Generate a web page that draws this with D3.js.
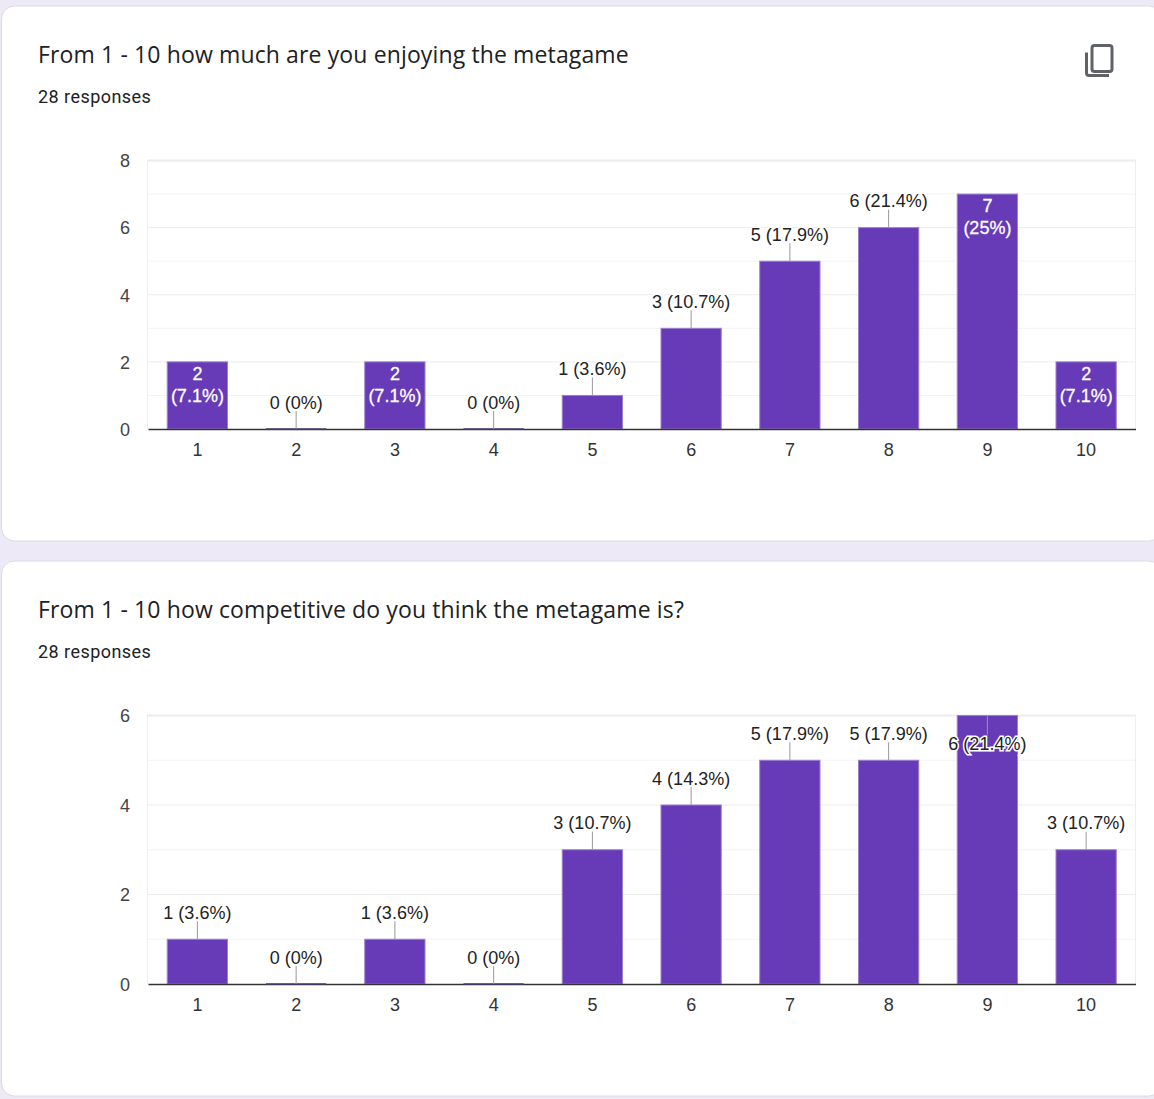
<!DOCTYPE html>
<html>
<head>
<meta charset="utf-8">
<script src="https://cdn.jsdelivr.net/npm/d3@7"></script>
<style>
html, body { margin: 0; padding: 0; background: #ede9f7; overflow: hidden; }
svg { display: block; }
.title { font-family: "Open Sans", sans-serif; font-size: 23px; letter-spacing: 0.13px; fill: #202124; }
.sub { font-family: Roboto, sans-serif; font-size: 18px; letter-spacing: 0.45px; fill: #202124; }
.chart text { font-family: "Liberation Sans", Arial, sans-serif; font-size: 18px; }
</style>
</head>
<body>
<script>
const categories = ["1", "2", "3", "4", "5", "6", "7", "8", "9", "10"];

// first question
const enjoyTitle = "From 1 - 10 how much are you enjoying the metagame";
const enjoyValues = [2, 0, 2, 0, 1, 3, 5, 6, 7, 2];
const enjoyPercents = ["7.1%", "0%", "7.1%", "0%", "3.6%", "10.7%", "17.9%", "21.4%", "25%", "7.1%"];
const enjoyTicks = [0, 2, 4, 6, 8];
const enjoyMinorTicks = [1, 3, 5, 7];
const enjoyInsideValues = [2, 7]; // these counts get a two line label inside the bar

// second question
const competitiveTitle = "From 1 - 10 how competitive do you think the metagame is?";
const competitiveValues = [1, 0, 1, 0, 3, 4, 5, 5, 6, 3];
const competitivePercents = ["3.6%", "0%", "3.6%", "0%", "10.7%", "14.3%", "17.9%", "17.9%", "21.4%", "10.7%"];
const competitiveTicks = [0, 2, 4, 6];
const competitiveMinorTicks = [1, 3, 5];
const competitiveInsideValues = [];

const responsesLabel = "28 responses";

const svg = d3.select("body").append("svg")
    .attr("width", 1154)
    .attr("height", 1099);

const drawCard = (cardTop, title, values, percents, ticks, minorTicks, insideValues, showIcon) => {
    const g = svg.append("g").attr("transform", `translate(0,${cardTop})`);

    // カード
    g.append("rect")
        .attr("x", 1.5).attr("y", 0.5)
        .attr("width", 1160).attr("height", 535)
        .attr("rx", 13)
        .attr("fill", "white")
        .attr("stroke", "#dadce0");

    g.append("text").attr("class", "title")
        .attr("x", 38).attr("y", 57)
        .text(title);
    g.append("text").attr("class", "sub")
        .attr("x", 38).attr("y", 97)
        .text(responsesLabel);

    // コピーアイコン
    if (showIcon) {
        const icon = g.append("g").attr("fill", "none").attr("stroke", "#5f6368").attr("stroke-width", 3);
        icon.append("rect").attr("x", 1092).attr("y", 40).attr("width", 20).attr("height", 26).attr("rx", 2.5);
        icon.append("path").attr("d", "M1086.5,47V67.5a2.5,2.5 0 0 0 2.5,2.5H1109");
    }

    const chart = g.append("g").attr("class", "chart");
    const left = 147, right = 1136, top = 155, bottom = 423.5;

    const x = d3.scaleBand()
        .domain(categories)
        .range([left + 1, right - 0.5])
        .paddingInner(0.39)
        .paddingOuter(0.195);
    const y = d3.scaleLinear()
        .domain([0, d3.max(ticks)])
        .range([bottom, top]);
    const barCenter = i => x(categories[i]) + x.bandwidth() / 2;

    // グリッド線
    chart.append("g").selectAll("line")
        .data(minorTicks)
        .join("line")
        .attr("x1", left).attr("x2", right)
        .attr("y1", d => y(d)).attr("y2", d => y(d))
        .attr("stroke", "#f3f3f3");
    chart.append("g").selectAll("line")
        .data(ticks.slice(1))
        .join("line")
        .attr("x1", left).attr("x2", right)
        .attr("y1", d => y(d)).attr("y2", d => y(d))
        .attr("stroke", "#ececec")
        .attr("stroke-width", (d, i) => i === ticks.length - 2 ? 2 : 1);
    chart.selectAll("line.edge")
        .data([left + 0.5, right - 0.5])
        .join("line")
        .attr("class", "edge")
        .attr("x1", d => d).attr("x2", d => d)
        .attr("y1", top).attr("y2", bottom)
        .attr("stroke", "#eeeeee");

    // 棒
    chart.append("g").selectAll("rect")
        .data(values)
        .join("rect")
        .attr("x", (d, i) => x(categories[i]))
        .attr("y", d => y(d))
        .attr("width", x.bandwidth())
        .attr("height", d => y(0) - y(d))
        .attr("fill", "#673ab7")
        .attr("stroke", "#9b7fd0")
        .attr("stroke-width", 1);

    // 軸
    chart.append("g")
        .attr("transform", `translate(${left - 13},0.5)`)
        .call(d3.axisLeft(y).tickValues(ticks).tickFormat(d3.format("d")).tickSize(0).tickPadding(4))
        .call(a => a.select(".domain").remove())
        .call(a => a.selectAll("text").attr("fill", "#444444"));
    chart.append("g")
        .attr("transform", `translate(0,${bottom})`)
        .call(d3.axisBottom(x).tickSize(0).tickPadding(14))
        .call(a => a.select(".domain").attr("stroke", "#333333").attr("stroke-width", 1.5))
        .call(a => a.selectAll("text").attr("fill", "#333333"));

    // 値が0の棒は軸の上に細い線として残る
    chart.append("g").selectAll("line")
        .data(values.map((d, i) => ({ d, i })).filter(e => e.d === 0))
        .join("line")
        .attr("x1", e => x(categories[e.i]))
        .attr("x2", e => x(categories[e.i]) + x.bandwidth())
        .attr("y1", y(0)).attr("y2", y(0))
        .attr("stroke", "#4d3a75")
        .attr("stroke-width", 1.5);

    // データラベル
    const labels = chart.append("g").selectAll("g")
        .data(values)
        .join("g")
        .attr("transform", (d, i) => `translate(${barCenter(i)},${y(d)})`);

    labels.each(function(d, i) {
        const label = d3.select(this);

        // 2行で棒の中に入れる
        if (insideValues.includes(d)) {
            [[d, 18], [`(${percents[i]})`, 40]].forEach(([line, dy]) => {
                label.append("text")
                    .attr("y", dy)
                    .attr("text-anchor", "middle")
                    .attr("fill", "white")
                    .attr("stroke", "white")
                    .attr("stroke-width", 0.3)
                    .text(line);
            });
            return;
        }

        // 上に余白がなければ棒の上端から下へ
        const below = y(d) - top < 27;
        label.append("line")
            .attr("y1", 0)
            .attr("y2", below ? 19 : -18)
            .attr("stroke", "#999999");
        label.append("text")
            .attr("y", below ? 34 : -20.5)
            .attr("text-anchor", "middle")
            .attr("fill", "#222222")
            .attr("stroke", "white")
            .attr("stroke-width", 3)
            .attr("paint-order", "stroke")
            .text(`${d} (${percents[i]})`);
    });
};

drawCard(5.5, enjoyTitle, enjoyValues, enjoyPercents, enjoyTicks, enjoyMinorTicks, enjoyInsideValues, true);
drawCard(560.5, competitiveTitle, competitiveValues, competitivePercents, competitiveTicks, competitiveMinorTicks, competitiveInsideValues, false);
</script>
</body>
</html>
